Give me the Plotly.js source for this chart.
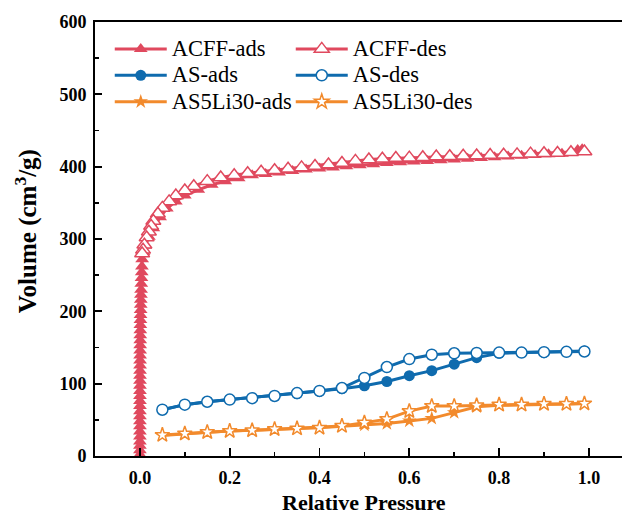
<!DOCTYPE html>
<html>
<head>
<meta charset="utf-8">
<script src="https://cdn.plot.ly/plotly-3.0.1.min.js"></script>
<style>html,body{margin:0;padding:0;background:#fff;}#chart{width:622px;height:517px;}</style>
</head>
<body>
<div id="chart"></div>
<script>
// ---- Data ----
const acffAdsX = [0.00001,0.00002,0.00003,0.00004,0.00005,0.00006,0.00007,0.00008,0.00009,0.0001,
  0.00012,0.00014,0.00016,0.00018,0.0002,0.00023,0.00026,0.0003,0.00035,0.0004,
  0.00045,0.0005,0.0006,0.0007,0.0008,0.0009,0.001,0.0012,0.0014,0.0016,
  0.0018,0.002,0.0023,0.0026,0.003,0.0035,0.004,0.0045,0.005,
  0.008,0.012,0.02,0.03,0.045,0.06,0.08,0.1,0.13,0.16,0.19,0.22,0.25,0.28,0.31,0.34,0.37,0.4,
  0.43,0.46,0.49,0.52,0.55,0.58,0.61,0.64,0.67,0.7,0.73,0.76,0.79,0.82,0.85,0.88,0.91,0.94,0.96,0.975,0.985];
const acffAdsY = [2,8,14,20,27,34,41,48,55,62,
  69,76,83,90,97,104,111,118,125,132,
  139,146,153,160,167,174,181,188,195,202,
  209,216,223,230,238,246,254,262,272,
  282,291,303,315,330,342,352,360,368,375,380,384,388,390,392,394,396,397.5,
  399,400.5,402,403.5,405,406,407,408,409,410,411,412,413,414,415,416,417,418,420,423,424];

const acffDesX = [0.99,0.96,0.93,0.90,0.87,0.84,0.81,0.78,0.75,0.72,0.69,0.66,0.63,0.60,0.57,0.54,0.51,
  0.48,0.45,0.42,0.39,0.36,0.33,0.30,0.27,0.24,0.21,0.18,0.15,0.12,0.10,0.08,0.065,0.05,0.04,0.03,
  0.025,0.02,0.015,0.01,0.007,0.005];
const acffDesY = [421,420,419,418.5,418,417,416.5,416,415.5,415,414.5,414,413,412.5,412,411,410,
  408,405,403,401,399,397,395,393,391,388,385,380,373,367,360,352,343,335,325,
  318,310,302,292,285,280];

const asX = [0.05,0.10,0.15,0.20,0.25,0.30,0.35,0.40,0.45,0.50,0.55,0.60,0.65,0.70,0.75,0.80,0.85,0.90,0.95,0.99];
const asAdsY = [64,71,75,78,80,83,86,89,93,97,103,111,118,127,136,142,143,143,144,145];
const asDesY = [64,71,75,78,80,83,87,90,94,108,123,134,140,142,142.5,143,143,143.5,144,144.5];

const liX = [0.05,0.10,0.15,0.20,0.25,0.30,0.35,0.40,0.45,0.50,0.55,0.60,0.65,0.70,0.75,0.80,0.85,0.90,0.95,0.99];
const liAdsY = [28.5,31,33,34.5,35.5,36.5,38,39,41,43,45,48.5,52,60,68,70,71,71,72,72.5];
const liDesY = [29,31,33,34.5,35.5,37,38,39,41.5,46,51,62,69,69,70,71,71,72,72,72.5];

const names = ['ACFF-ads','ACFF-des','AS-ads','AS-des','AS5Li30-ads','AS5Li30-des'];
const xTickVals = [0, 0.2, 0.4, 0.6, 0.8, 1.0];
const xTickText = ['0.0','0.2','0.4','0.6','0.8','1.0'];
const xTitle = 'Relative Pressure';
const yTitle = 'Volume (cm<sup>3</sup>/g)';

// ---- Styles ----
const RED = '#E0495E', BLUE = '#0F6BAE', ORANGE = '#F28A2C';
const LEG_SIZE = 22.5;

function tr(x, y, name, color, symbol, open, size) {
  return {
    x: x, y: y, name: '<span style="font-size:' + LEG_SIZE + 'px">' + name + '</span>',
    type: 'scatter', mode: 'lines+markers',
    line: {color: color, width: 3},
    marker: {symbol: symbol, size: size, color: open ? '#ffffff' : color,
             line: {color: color, width: open ? 1.5 : 0}}
  };
}

const data = [
  tr(acffAdsX, acffAdsY, names[0], RED, 'triangle-up', false, 12),
  tr(acffDesX, acffDesY, names[1], RED, 'triangle-up', true, 13),
  tr(asX, asAdsY, names[2], BLUE, 'circle', false, 11),
  tr(asX, asDesY, names[3], BLUE, 'circle', true, 11),
  tr(liX, liAdsY, names[4], ORANGE, 'star', false, 11),
  tr(liX, liDesY, names[5], ORANGE, 'star', true, 11)
];

const serif = '"Liberation Serif", serif';

const layout = {
  width: 622, height: 517,
  margin: {l: 95, r: 0, t: 22, b: 61},
  paper_bgcolor: '#ffffff', plot_bgcolor: '#ffffff',
  font: {family: serif, color: '#000'},
  showlegend: true,
  legend: {
    orientation: 'h', x: 0.028, y: 0.98, xanchor: 'left', yanchor: 'top',
    bgcolor: 'rgba(0,0,0,0)', borderwidth: 0,
    font: {family: serif, size: 18, color: '#000'},
    entrywidth: 114, entrywidthmode: 'pixels', itemwidth: 52, tracegroupgap: 0
  },
  xaxis: {
    range: [-0.1, 1.0737], tickvals: xTickVals, ticktext: xTickText,
    ticks: 'inside', ticklen: 8, tickwidth: 1.8, tickcolor: '#000',
    minor: {dtick: 0.1, tick0: 0, ticks: 'inside', ticklen: 4, tickwidth: 1.5, tickcolor: '#000'},
    showline: true, linewidth: 1.8, linecolor: '#000', mirror: true,
    showgrid: false, zeroline: false,
    tickfont: {family: serif, size: 18, color: '#000', weight: 'bold'},
    ticklabelstandoff: 5
  },
  yaxis: {
    range: [0, 600], dtick: 100, tick0: 0,
    ticks: 'inside', ticklen: 7, tickwidth: 1.8, tickcolor: '#000',
    minor: {dtick: 50, tick0: 0, ticks: 'inside', ticklen: 4, tickwidth: 1.5, tickcolor: '#000'},
    showline: true, linewidth: 1.8, linecolor: '#000', mirror: true,
    showgrid: false, zeroline: false,
    tickfont: {family: serif, size: 18, color: '#000', weight: 'bold'},
    ticklabelstandoff: 3
  },
  annotations: [
    {text: '<b>' + xTitle + '</b>', xref: 'paper', yref: 'paper', x: 0.51, y: -0.1383,
     xanchor: 'center', yanchor: 'bottom', showarrow: false, borderpad: 0,
     font: {family: serif, size: 22, color: '#000'}},
    {text: '<b>' + yTitle + '</b>', xref: 'paper', yref: 'paper', x: -0.131, y: 0.518,
     xanchor: 'center', yanchor: 'middle', showarrow: false, textangle: -90,
     font: {family: serif, size: 25, color: '#000'}}
  ]
};

Plotly.newPlot('chart', data, layout, {staticPlot: true, displayModeBar: false});
</script>
</body>
</html>
